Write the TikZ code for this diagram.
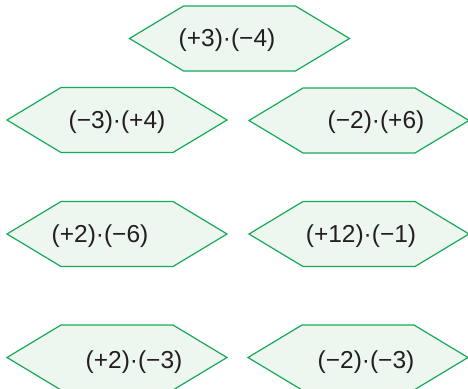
\documentclass[tikz,border=0pt]{standalone}
\usepackage{fontspec}
\setmainfont{Liberation Sans}
\definecolor{hexline}{RGB}{22,170,88}
\definecolor{hexbg}{RGB}{238,246,240}
\definecolor{ink}{RGB}{35,31,32}
\newcommand{\tms}{\textperiodcentered}
\tikzset{
  hexa/.style={draw=hexline,fill=hexbg,line width=1.2pt,line join=miter},
  prod/.style={font=\fontsize{24.5}{28}\selectfont,text=ink,inner sep=0pt},
}

\begin{document}
\begin{tikzpicture}[x=1pt,y=-1pt]
  \useasboundingbox (0,0) rectangle (468,388);

  \coordinate (h1) at (239.5,38.5);
  \coordinate (h2) at (117,120);
  \coordinate (h3) at (359,120.5);
  \coordinate (h4) at (117,234);
  \coordinate (h5) at (359,234);
  \coordinate (h6) at (117,357.5);
  \coordinate (h7) at (358,357.5);

  \foreach \h in {h1,h2,h3,h4,h5,h6,h7}
    \draw[hexa] (\h) ++(-110,0) -- ++(54,-32.5) -- ++(112,0) -- ++(54,32.5)
      -- ++(-54,32.5) -- ++(-112,0) -- cycle;

  \node[prod] (p1) at ([shift={(-12.5,2)}]h1) {(+3)\tms(−4)};
  \node[prod] (p2) at ([shift={(0,2)}]h2)     {(−3)\tms(+4)};
  \node[prod] (p3) at ([shift={(17,2)}]h3)    {(−2)\tms(+6)};
  \node[prod] (p4) at ([shift={(-17,2)}]h4)   {(+2)\tms(−6)};
  \node[prod] (p5) at ([shift={(2,2)}]h5)     {(+12)\tms(−1)};
  \node[prod] (p6) at ([shift={(17,4.5)}]h6)  {(+2)\tms(−3)};
  \node[prod] (p7) at ([shift={(8,4.5)}]h7)   {(−2)\tms(−3)};
\end{tikzpicture}
\end{document}
